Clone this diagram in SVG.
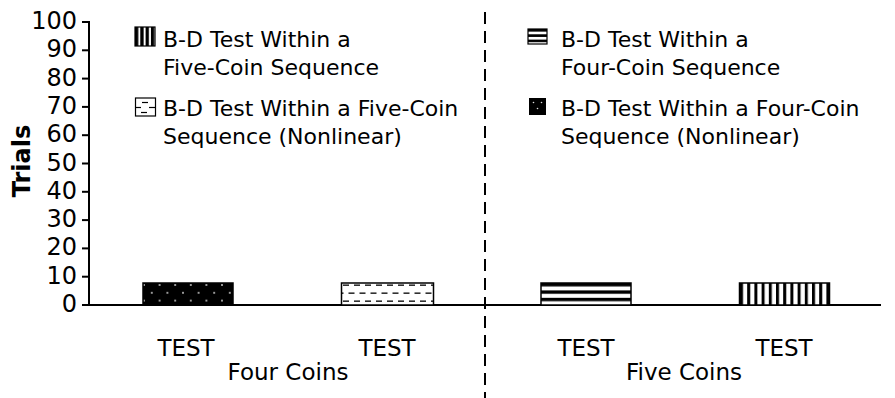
<svg xmlns="http://www.w3.org/2000/svg" width="895" height="398" viewBox="0 0 895 398">
<style>
  text { font-family: "DejaVu Sans", "Liberation Sans", sans-serif; fill: #000; }
  .tick { font-size: 24px; text-anchor: end; }
  .leg { font-size: 22px; }
  .cat { font-size: 23px; text-anchor: middle; }
  .axis { stroke: #000; stroke-width: 2; fill: none; }
  .bar { stroke: #000; stroke-width: 1.5; }
</style>
<defs>
  <pattern id="pVert" patternUnits="userSpaceOnUse" x="740" y="0" width="7.2" height="10">
    <rect x="0" y="0" width="7.2" height="10" fill="#fff"/>
    <rect x="0" y="0" width="3" height="10" fill="#000"/>
  </pattern>
  <pattern id="pVertLeg" patternUnits="userSpaceOnUse" x="135" y="0" width="5.3" height="10">
    <rect x="0" y="0" width="5.3" height="10" fill="#fff"/>
    <rect x="0" y="0" width="3.3" height="10" fill="#000"/>
  </pattern>
  <pattern id="pHorz" patternUnits="userSpaceOnUse" x="0" y="283" width="10" height="7.4">
    <rect x="0" y="0" width="10" height="7.4" fill="#fff"/>
    <rect x="0" y="0" width="10" height="3.4" fill="#000"/>
  </pattern>
  <pattern id="pHorzLeg" patternUnits="userSpaceOnUse" x="0" y="29" width="10" height="5.3">
    <rect x="0" y="0" width="10" height="5.3" fill="#fff"/>
    <rect x="0" y="0" width="10" height="2.6" fill="#000"/>
  </pattern>
  <pattern id="pDash" patternUnits="userSpaceOnUse" x="341" y="283" width="11" height="16">
    <rect x="0" y="0" width="11" height="16" fill="#fff"/>
    <rect x="2" y="1.5" width="6" height="1.3" fill="#000"/>
    <rect x="-3.5" y="9.5" width="6" height="1.3" fill="#000"/>
    <rect x="7.5" y="9.5" width="6" height="1.3" fill="#000"/>
  </pattern>
  <pattern id="pDot" patternUnits="userSpaceOnUse" x="144" y="285" width="15.6" height="15.6">
    <rect x="0" y="0" width="15.6" height="15.6" fill="#000"/>
    <circle cx="0" cy="0" r="0.9" fill="#ddd"/>
    <circle cx="15.6" cy="0" r="0.9" fill="#ddd"/>
    <circle cx="0" cy="15.6" r="0.9" fill="#ddd"/>
    <circle cx="15.6" cy="15.6" r="0.9" fill="#ddd"/>
    <circle cx="7.8" cy="7.8" r="0.9" fill="#ddd"/>
  </pattern>
</defs>

<g id="y-axis">
  <line class="axis" x1="89" y1="21" x2="89" y2="306"/>
  <g class="axis">
    <line x1="82" y1="22" x2="89" y2="22"/>
    <line x1="82" y1="50.3" x2="89" y2="50.3"/>
    <line x1="82" y1="78.6" x2="89" y2="78.6"/>
    <line x1="82" y1="106.9" x2="89" y2="106.9"/>
    <line x1="82" y1="135.2" x2="89" y2="135.2"/>
    <line x1="82" y1="163.5" x2="89" y2="163.5"/>
    <line x1="82" y1="191.8" x2="89" y2="191.8"/>
    <line x1="82" y1="220.1" x2="89" y2="220.1"/>
    <line x1="82" y1="248.4" x2="89" y2="248.4"/>
    <line x1="82" y1="276.7" x2="89" y2="276.7"/>
  </g>
  <text class="tick" x="77" y="29">100</text>
  <text class="tick" x="77" y="57.3">90</text>
  <text class="tick" x="77" y="85.6">80</text>
  <text class="tick" x="77" y="113.9">70</text>
  <text class="tick" x="77" y="142.2">60</text>
  <text class="tick" x="77" y="170.5">50</text>
  <text class="tick" x="77" y="198.8">40</text>
  <text class="tick" x="77" y="227.1">30</text>
  <text class="tick" x="77" y="255.4">20</text>
  <text class="tick" x="77" y="283.7">10</text>
  <text class="tick" x="77" y="312">0</text>
  <text x="30" y="161" transform="rotate(-90 30 161)" style="font-size:24px;font-weight:bold;text-anchor:middle">Trials</text>
</g>

<g id="x-axis">
  <line class="axis" x1="82" y1="305" x2="881" y2="305"/>
</g>

<g id="divider">
  <line x1="485" y1="12" x2="485" y2="398" stroke="#000" stroke-width="2" stroke-dasharray="12 7"/>
</g>

<g id="bar-four-nonlinear">
  <rect class="bar" x="143" y="283" width="90" height="22" fill="url(#pDot)"/>
  <text class="cat" x="186" y="356">TEST</text>
</g>
<g id="bar-five-nonlinear">
  <rect class="bar" x="341.5" y="283" width="92" height="22" fill="url(#pDash)"/>
  <text class="cat" x="387" y="356">TEST</text>
</g>
<g id="bar-four-sequence">
  <rect class="bar" x="541" y="283" width="90" height="22" fill="url(#pHorz)"/>
  <text class="cat" x="586" y="356">TEST</text>
</g>
<g id="bar-five-sequence">
  <rect class="bar" x="739.5" y="283" width="90" height="22" fill="url(#pVert)"/>
  <text class="cat" x="784" y="356">TEST</text>
</g>

<g id="group-labels">
  <text class="cat" x="288" y="380">Four Coins</text>
  <text class="cat" x="684" y="380">Five Coins</text>
</g>

<g id="legend-five-sequence">
  <rect x="135" y="27" width="20" height="19" fill="url(#pVertLeg)" stroke="#000" stroke-width="1.2"/>
  <text class="leg" x="163" y="47">B-D Test Within a</text>
  <text class="leg" x="163" y="75">Five-Coin Sequence</text>
</g>
<g id="legend-five-nonlinear">
  <rect x="135.5" y="98" width="20" height="18" fill="#fff" stroke="#000" stroke-width="1.2"/>
  <line x1="142" y1="102.5" x2="148" y2="102.5" stroke="#000" stroke-width="1.2"/>
  <line x1="136" y1="107.5" x2="141" y2="107.5" stroke="#000" stroke-width="1.2"/>
  <line x1="149" y1="107.5" x2="155" y2="107.5" stroke="#000" stroke-width="1.2"/>
  <line x1="141" y1="112.5" x2="147" y2="112.5" stroke="#000" stroke-width="1.2"/>
  <text class="leg" x="163" y="116">B-D Test Within a Five-Coin</text>
  <text class="leg" x="163" y="144">Sequence (Nonlinear)</text>
</g>
<g id="legend-four-sequence">
  <rect x="528" y="29" width="19" height="15" fill="url(#pHorzLeg)" stroke="#000" stroke-width="1.2"/>
  <text class="leg" x="561" y="47">B-D Test Within a</text>
  <text class="leg" x="561" y="75">Four-Coin Sequence</text>
</g>
<g id="legend-four-nonlinear">
  <rect x="529" y="98" width="17" height="17" fill="#000"/>
  <circle cx="533.5" cy="102.5" r="0.8" fill="#ddd"/>
  <circle cx="541.5" cy="102.5" r="0.8" fill="#ddd"/>
  <circle cx="537.5" cy="108.5" r="0.8" fill="#ddd"/>
  <text class="leg" x="561" y="116">B-D Test Within a Four-Coin</text>
  <text class="leg" x="561" y="144">Sequence (Nonlinear)</text>
</g>
</svg>
